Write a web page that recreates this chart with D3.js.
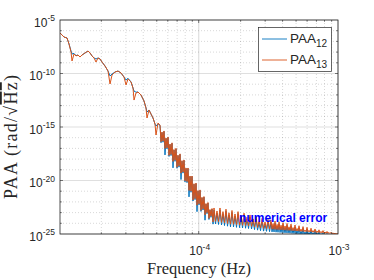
<!DOCTYPE html>
<html>
<head>
<meta charset="utf-8">
<script src="https://cdn.jsdelivr.net/npm/d3@7"></script>
<style>
body { margin: 0; background: #fff; }
svg { display: block; }
</style>
</head>
<body>
<div id="chart"></div>
<script>
// frequency bins, in microhertz
var freqUHz = [10.1,10.44,10.79,11.34,11.72,12.12,12.32,12.73,13.16,13.60,14.06,14.53,15.28,16.05,16.59,17.15,17.73,18.32,18.93,19.57,20.23,21.26,22.34,23.09,23.87,25.08,26.35,27.69,29.10,30.08,31.09,32.67,33.77,34.33,35.48,36.67,38.53,40.49,41.85,42.55,43.98,45.46,46.99,48.57,49.38,51.04,
  52.76,53.64,54.53,55.44,56.36,57.30,58.26,59.23,60.21,61.22,62.24,63.28,64.33,65.40,66.49,67.60,68.72,69.87,71.03,72.22,73.42,74.64,75.89,77.15,78.44,79.75,81.07,82.43,83.79,85.19,86.61,88.06,89.52,91.01,92.53,94.07,95.64,97.24,98.85,100.5,102.2,103.9,105.6,107.4,109.1,111.0,112.8,114.7,116.6,118.5,120.5,122.5,124.6,126.7,
  128.8,132.0,135.3,138.7,142.2,145.8,149.4,153.2,157.0,161.0,165.0,169.2,173.4,177.8,182.2,186.8,191.6,196.4,201.3,206.4,211.6,216.9,222.3,227.9,233.6,239.5,245.5,251.7,258.0,264.5,271.1,277.9,284.9,292.0,299.4,306.9,314.6,322.5,
  330.6,336.1,341.7,347.4,353.2,359.1,365.1,371.1,377.3,383.6,390.0,396.5,403.1,409.8,416.7,423.6,430.6,437.7,445.0,452.5,460.0,467.7,475.5,483.4,491.5,499.7,508.0,516.4,525.0,533.8,542.7,551.7,560.9,570.3,579.8,589.4,599.3,609.2,619.4,629.7,640.2,650.9,661.7,672.8,684.0,695.4,707.0,718.6,730.6,742.8,755.2,767.8,780.6,793.6,806.8,820.3,834.0,847.7,861.8,876.2,890.8,905.7,920.8,936.1,951.7,967.6,983.7,1000];

// log10 of PAA (rad/sqrt(Hz))
var paa12Exp = [-6.21,-6.40,-6.59,-6.68,-7.24,-7.90,-8.18,-8.12,-8.33,-8.27,-8.46,-8.27,-8.08,-7.90,-8.08,-8.36,-8.55,-8.64,-8.55,-8.64,-8.93,-9.30,-9.77,-10.23,-10.05,-9.86,-9.77,-9.95,-10.33,-10.61,-10.45,-10.79,-11.36,-11.64,-11.75,-11.73,-12.01,-12.57,-13.22,-13.60,-13.41,-13.79,-14.16,-14.72,-14.91,-14.70,
  -14.86,-16.47,-15.52,-16.42,-15.42,-17.61,-16.08,-17.05,-15.98,-17.75,-16.64,-17.67,-16.53,-18.82,-17.15,-18.21,-17.04,-18.86,-17.68,-18.75,
  -17.56,-19.91,-18.19,-19.31,-18.13,-20.13,-18.88,-20.20,-18.88,-21.53,-19.63,-21.10,-19.63,-21.92,-20.35,-21.79,-20.29,-22.91,-20.99,-22.28,
  -20.93,-22.89,-21.62,-22.76,-21.55,-23.71,-22.20,-23.10,-22.11,-23.64,-22.76,-23.44,-22.67,-24.08,
  -22.76,-24.06,-23.04,-24.11,-22.76,-24.16,-23.10,-24.21,-22.87,-24.27,-23.21,-24.33,-22.99,-24.34,-23.32,-24.38,-23.10,-24.41,-23.44,-24.44,
  -23.25,-24.46,-23.61,-24.49,-23.41,-24.53,-23.78,-24.59,-23.58,-24.64,-23.95,-24.69,-23.73,-24.73,-24.07,-24.75,-23.84,-24.78,
  -23.90,-24.80,-24.22,-24.81,-23.98,-24.83,-24.29,-24.84,-24.05,-24.86,-24.37,-24.87,-24.13,-24.89,-24.44,-24.90,-24.20,-24.91,-24.52,-24.92,
  -24.27,-24.94,-24.59,-24.95,-24.35,-24.97,-24.67,-24.98,-24.42,-25.00,-24.74,-25.01,-24.50,-25.03,-24.82,-25.04,-24.57,-25.05,-24.85,-25.06,
  -24.65,-25.08,-24.87,-25.09,-24.72,-25.11,-24.91,-25.12,-24.80,-25.14,-24.95,-25.15,-24.87,-25.17,-25.00,-25.18,-24.95,-25.19,-25.04,-25.20,
  -25.03,-25.22,-25.09,-25.23,-25.13,-25.25,-25.15,-25.26];

var paa13Exp = [-6.21,-6.40,-6.59,-6.68,-7.24,-7.99,-8.83,-8.18,-8.36,-8.27,-8.46,-8.27,-8.08,-7.90,-8.08,-8.36,-8.55,-8.93,-8.55,-8.64,-8.93,-9.30,-9.77,-10.98,-10.14,-9.86,-9.77,-9.95,-10.33,-11.07,-10.51,-10.79,-11.36,-12.48,-11.82,-11.73,-12.01,-12.57,-13.22,-14.16,-13.41,-13.79,-14.16,-14.72,-15.75,-14.63,
  -14.81,-16.37,-15.47,-16.32,-15.37,-17.01,-16.03,-16.95,-15.93,-17.65,-16.59,-17.57,-16.48,-18.22,-17.10,-18.11,-16.99,-18.76,-17.63,-18.65,
  -17.51,-19.31,-18.14,-19.21,-18.08,-20.03,-18.83,-20.10,-18.83,-20.93,-19.58,-21.00,-19.58,-21.82,-20.30,-21.69,-20.24,-22.31,-20.94,-22.18,
  -20.88,-22.79,-21.57,-22.66,-21.50,-23.21,-22.15,-23.00,-22.06,-23.54,-22.71,-23.34,-22.62,-23.88,
  -22.57,-23.81,-22.85,-23.86,-22.57,-23.91,-22.91,-23.96,-22.68,-24.02,-23.02,-24.08,-22.80,-24.09,-23.13,-24.13,-22.91,-24.16,-23.25,-24.19,
  -23.06,-24.21,-23.42,-24.24,-23.22,-24.28,-23.59,-24.34,-23.39,-24.39,-23.76,-24.44,-23.54,-24.48,-23.88,-24.50,-23.65,-24.53,
  -23.71,-24.55,-24.03,-24.56,-23.79,-24.58,-24.10,-24.59,-23.86,-24.61,-24.18,-24.62,-23.94,-24.64,-24.25,-24.65,-24.01,-24.66,-24.33,-24.67,
  -24.08,-24.69,-24.40,-24.70,-24.16,-24.72,-24.48,-24.73,-24.23,-24.75,-24.55,-24.76,-24.31,-24.78,-24.63,-24.79,-24.38,-24.80,-24.66,-24.81,
  -24.46,-24.83,-24.68,-24.84,-24.53,-24.86,-24.72,-24.87,-24.61,-24.89,-24.76,-24.90,-24.68,-24.92,-24.81,-24.93,-24.76,-24.94,-24.85,-24.95,
  -24.84,-24.97,-24.90,-24.98,-24.94,-25.00,-24.96,-25.01];

var seriesSubs = ["12", "13"];
var seriesColors = ["#0072bd", "#d95319"];
var xTickExp = [-4, -3];
var yTickExp = [-25, -20, -15, -10, -5];

var W = 374, H = 280;
var pl = 60, pr = 338, pt = 20, pb = 234;
var axisColor = "#262626";

var x = d3.scaleLog().domain([1.01e-5, 1e-3]).range([pl, pr]);
var y = d3.scaleLog().domain([1e-25, 1e-5]).range([pb, pt]);

var svg = d3.select("#chart")
    .append("svg")
    .attr("width", W)
    .attr("height", H)
    .style("font-family", "'Liberation Sans', Arial, sans-serif");

// grid: minor first, then major
var xMinor = [];
[-5, -4].forEach(function(e) {
  for (var m = 2; m <= 9; m++) {
    var v = m * Math.pow(10, e);
    if (v > x.domain()[0] && v < x.domain()[1]) xMinor.push(v);
  }
});
var yMinor = [];
for (var e = -24; e <= -6; e++) if (e % 5 !== 0) yMinor.push(Math.pow(10, e));

var grid = svg.append("g");
grid.selectAll(".xminor").data(xMinor).enter().append("line")
    .attr("x1", function(d) { return x(d); }).attr("x2", function(d) { return x(d); })
    .attr("y1", pt).attr("y2", pb)
    .attr("stroke", axisColor).attr("stroke-opacity", 0.3)
    .attr("stroke-width", 0.6).attr("stroke-dasharray", "1,2");
grid.selectAll(".yminor").data(yMinor).enter().append("line")
    .attr("x1", pl).attr("x2", pr)
    .attr("y1", function(d) { return y(d); }).attr("y2", function(d) { return y(d); })
    .attr("stroke", axisColor).attr("stroke-opacity", 0.3)
    .attr("stroke-width", 0.6).attr("stroke-dasharray", "1,2");
grid.selectAll(".xmajor").data(xTickExp).enter().append("line")
    .attr("x1", function(d) { return x(Math.pow(10, d)); }).attr("x2", function(d) { return x(Math.pow(10, d)); })
    .attr("y1", pt).attr("y2", pb)
    .attr("stroke", axisColor).attr("stroke-opacity", 0.15).attr("stroke-width", 1.2);
grid.selectAll(".ymajor").data(yTickExp).enter().append("line")
    .attr("x1", pl).attr("x2", pr)
    .attr("y1", function(d) { return y(Math.pow(10, d)); }).attr("y2", function(d) { return y(Math.pow(10, d)); })
    .attr("stroke", axisColor).attr("stroke-opacity", 0.15).attr("stroke-width", 1.2);

// lines
svg.append("clipPath").attr("id", "plotclip")
  .append("rect").attr("x", pl).attr("y", pt)
    .attr("width", pr - pl).attr("height", pb - pt);

var line = d3.line()
    .x(function(d) { return x(d[0]); })
    .y(function(d) { return y(d[1]); });

[paa12Exp, paa13Exp].forEach(function(s, i) {
  var pts = freqUHz.map(function(f, k) { return [f * 1e-6, Math.pow(10, s[k])]; });
  svg.append("path")
      .datum(pts)
      .attr("clip-path", "url(#plotclip)")
      .attr("fill", "none")
      .attr("stroke", seriesColors[i])
      .attr("stroke-width", 1)
      .attr("stroke-linejoin", "round")
      .attr("d", line);
});

// box and ticks
svg.append("rect")
    .attr("x", pl).attr("y", pt)
    .attr("width", pr - pl).attr("height", pb - pt)
    .attr("fill", "none").attr("stroke", axisColor).attr("stroke-width", 0.8);

var ticks = svg.append("g").attr("stroke", axisColor).attr("stroke-width", 0.6);
for (var e2 = -24; e2 <= -6; e2++) {
  var len = (e2 % 5 === 0) ? 3 : 1.8;
  var yy = y(Math.pow(10, e2));
  ticks.append("line").attr("x1", pl).attr("x2", pl + len).attr("y1", yy).attr("y2", yy);
  ticks.append("line").attr("x1", pr).attr("x2", pr - len).attr("y1", yy).attr("y2", yy);
}
xMinor.concat([1e-4]).forEach(function(v) {
  var len = v === 1e-4 ? 3 : 1.8;
  ticks.append("line").attr("x1", x(v)).attr("x2", x(v)).attr("y1", pb).attr("y2", pb - len);
  ticks.append("line").attr("x1", x(v)).attr("x2", x(v)).attr("y1", pt).attr("y2", pt + len);
});

// tick labels
function powLabel(sel, e) {
  sel.append("tspan").text("10");
  sel.append("tspan").attr("dy", -5.5).style("font-size", "8.5px").text(e);
}
svg.selectAll(".ylab").data(yTickExp).enter().append("text")
    .attr("x", 55)
    .attr("y", function(d) { return y(Math.pow(10, d)) + 6.5; })
    .attr("text-anchor", "end")
    .attr("fill", axisColor)
    .style("font-size", "12px")
    .each(function(d) { powLabel(d3.select(this), d); });
svg.selectAll(".xlab").data(xTickExp).enter().append("text")
    .attr("x", function(d) { return x(Math.pow(10, d)) + 1; })
    .attr("y", pb + 21)
    .attr("text-anchor", "middle")
    .attr("fill", axisColor)
    .style("font-size", "12px")
    .each(function(d) { powLabel(d3.select(this), d); });

// axis titles
svg.append("text")
    .attr("x", 199).attr("y", 274)
    .attr("text-anchor", "middle")
    .attr("fill", axisColor)
    .style("font-family", "'Liberation Serif', 'DejaVu Serif', serif")
    .style("font-size", "16.5px")
    .text("Frequency (Hz)");

var yt = svg.append("text")
    .attr("transform", "translate(17,137) rotate(-90)")
    .attr("text-anchor", "middle")
    .attr("fill", axisColor)
    .style("font-family", "'Liberation Serif', 'DejaVu Serif', serif")
    .style("font-size", "18px");
yt.append("tspan").text("PAA (rad/\u221A");
yt.append("tspan").style("text-decoration", "overline").text("Hz");
yt.append("tspan").text(")");
yt.attr("textLength", 124).attr("lengthAdjust", "spacing");

// annotation
svg.append("text")
    .attr("x", x(1.95e-4)).attr("y", 221.5)
    .attr("fill", "#0000ff")
    .style("font-size", "12px")
    .style("font-weight", "bold")
    .text("numerical error");

// legend
var lg = svg.append("g");
lg.append("rect")
    .attr("x", 258.5).attr("y", 27.5).attr("width", 73).attr("height", 44)
    .attr("fill", "#fff").attr("stroke", axisColor).attr("stroke-width", 0.7);
seriesSubs.forEach(function(s, i) {
  var ly = 39 + i * 21;
  lg.append("line").attr("x1", 262).attr("x2", 287).attr("y1", ly).attr("y2", ly)
      .attr("stroke", seriesColors[i]).attr("stroke-width", 0.9);
  var t = lg.append("text").attr("x", 290).attr("y", ly + 3.7)
      .attr("fill", axisColor).style("font-size", "13.5px");
  t.append("tspan").text("PAA");
  t.append("tspan").attr("dy", 4).style("font-size", "10px").text(s);
});
</script>
</body>
</html>
